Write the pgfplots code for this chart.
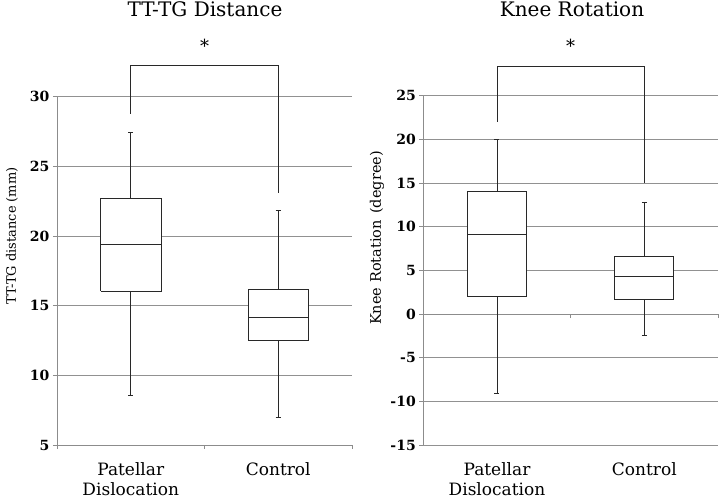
\documentclass[border=0pt]{standalone}
\usepackage{fontspec}
\setmainfont{DejaVu Serif}
\usepackage{pgfplots}
\pgfplotsset{compat=1.18}
\definecolor{axgray}{RGB}{140,140,140}
\definecolor{gridgray}{RGB}{145,145,145}
\definecolor{boxblack}{RGB}{40,40,40}
\pgfplotsset{
  myaxis/.style={
    scale only axis,
    anchor=south west,
    xmin=-0.5, xmax=1.5,
    xtick={-0.5,0.5,1.5}, xticklabels={},
    axis y line*=left,
    tick align=outside,
    major tick length=4pt,
    ymajorgrids,
    grid style={gridgray, line width=0.9pt},
    axis line style={axgray, line width=0.9pt},
    tick style={axgray, line width=0.9pt},
    yticklabel style={font=\fontsize{14}{16}\selectfont\bfseries},
    /pgf/number format/assume math mode=true,
    clip=false,
  },
  mybox/.style={boxblack, line width=0.8pt, fill=white, solid, mark=none},
  myline/.style={boxblack, line width=0.8pt, solid, mark=none},
}
\tikzset{catlabel/.style={anchor=north, align=center, inner sep=0pt, font=\fontsize{17}{20}\selectfont}}
\begin{document}
\begin{tikzpicture}
\useasboundingbox (0,0) rectangle (720pt,500pt);
% ---------------- Left panel ----------------
\begin{axis}[myaxis,
  at={(57pt,55pt)}, width=295pt, height=348.3pt,
  ymin=5, ymax=30, ytick={5,10,...,30},
  axis x line*=bottom,
]
% Patellar Dislocation: whiskers 8.57 / 27.44, box 16.02 - 22.70, median 19.40
\addplot[myline] coordinates {(0,8.57) (0,16.02)};
\addplot[myline] coordinates {(0,22.70) (0,27.44)};
\addplot[myline] coordinates {(-0.017,8.57) (0.017,8.57)};
\addplot[myline] coordinates {(-0.017,27.44) (0.017,27.44)};
\addplot[mybox] coordinates {(-0.205,16.02) (0.205,16.02) (0.205,22.70) (-0.205,22.70) (-0.205,16.02)};
\addplot[myline] coordinates {(-0.205,19.40) (0.205,19.40)};
% Control: whiskers 7.01 / 21.81, box 12.52 - 16.14, median 14.17
\addplot[myline] coordinates {(1,7.01) (1,12.52)};
\addplot[myline] coordinates {(1,16.14) (1,21.81)};
\addplot[myline] coordinates {(0.983,7.01) (1.017,7.01)};
\addplot[myline] coordinates {(0.983,21.81) (1.017,21.81)};
\addplot[mybox] coordinates {(0.795,12.52) (1.205,12.52) (1.205,16.14) (0.795,16.14) (0.795,12.52)};
\addplot[myline] coordinates {(0.795,14.17) (1.205,14.17)};
% significance bracket
\addplot[myline] coordinates {(0,28.76) (0,32.28) (1,32.28) (1,23.1)};
\node[anchor=base, font=\fontsize{18}{20}\selectfont] at (axis cs:0.5,33.14) {*};
\node[catlabel, yshift=-17pt] at (axis cs:0,5) {Patellar\\Dislocation};
\node[catlabel, yshift=-17pt] at (axis cs:1,5) {Control};
\end{axis}
% ---------------- Right panel ----------------
\begin{axis}[myaxis,
  at={(423.3pt,55pt)}, width=294.7pt, height=349.3pt,
  ymin=-15, ymax=25, ytick={-15,-10,...,25},
  axis x line*=middle, xtick align=outside,
]
% Patellar Dislocation: whiskers -9.09 / 19.96, box 1.98 - 14.00, median 9.12
\addplot[myline] coordinates {(0,-9.09) (0,1.98)};
\addplot[myline] coordinates {(0,14.00) (0,19.96)};
\addplot[myline] coordinates {(-0.017,-9.09) (0.017,-9.09)};
\addplot[myline] coordinates {(-0.017,19.96) (0.017,19.96)};
\addplot[mybox] coordinates {(-0.2,1.98) (0.2,1.98) (0.2,14.00) (-0.2,14.00) (-0.2,1.98)};
\addplot[myline] coordinates {(-0.2,9.12) (0.2,9.12)};
% Control: whiskers -2.41 / 12.79, box 1.63 - 6.64, median 4.35
\addplot[myline] coordinates {(1,-2.41) (1,1.63)};
\addplot[myline] coordinates {(1,6.64) (1,12.79)};
\addplot[myline] coordinates {(0.983,-2.41) (1.017,-2.41)};
\addplot[myline] coordinates {(0.983,12.79) (1.017,12.79)};
\addplot[mybox] coordinates {(0.8,1.63) (1.2,1.63) (1.2,6.64) (0.8,6.64) (0.8,1.63)};
\addplot[myline] coordinates {(0.8,4.35) (1.2,4.35)};
% significance bracket
\addplot[myline] coordinates {(0,22.02) (0,28.32) (1,28.32) (1,15.03)};
\node[anchor=base, font=\fontsize{18}{20}\selectfont] at (axis cs:0.5,29.89) {*};
\node[catlabel, yshift=-17pt] at (axis cs:0,-15) {Patellar\\Dislocation};
\node[catlabel, yshift=-17pt] at (axis cs:1,-15) {Control};
\end{axis}
% ---------------- Titles and axis labels ----------------
\node[anchor=base, font=\fontsize{20}{23}\selectfont] at (205pt,483pt) {TT-TG Distance};
\node[anchor=base, font=\fontsize{20}{23}\selectfont] at (572pt,483pt) {Knee Rotation};
\node[rotate=90, font=\fontsize{13}{15}\selectfont] at (12pt,264pt) {TT-TG distance (mm)};
\node[rotate=90, font=\fontsize{14.5}{16}\selectfont] at (377pt,262pt) {Knee Rotation\hspace{0.45em}(degree)};
\end{tikzpicture}
\end{document}
